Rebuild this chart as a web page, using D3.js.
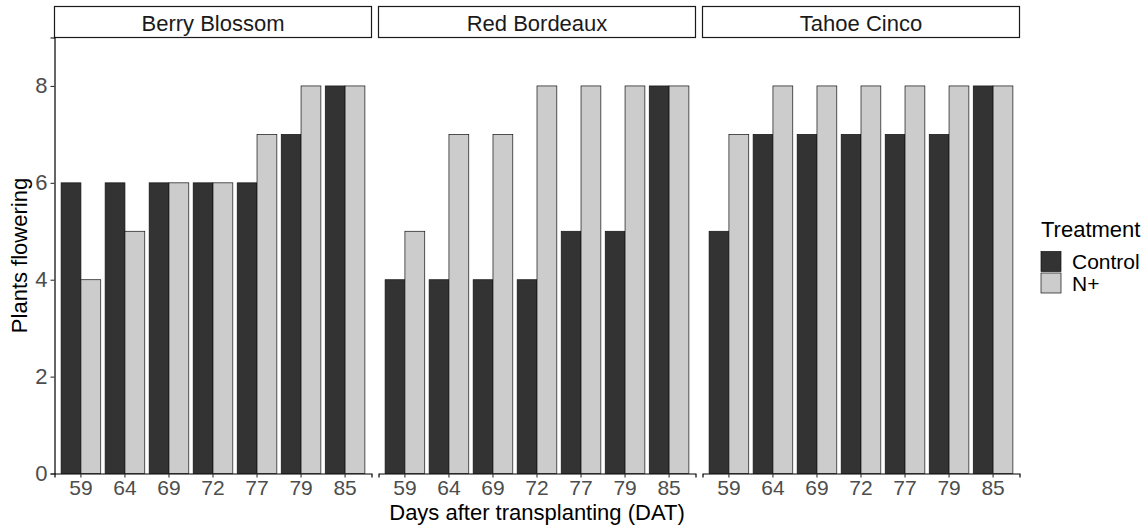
<!DOCTYPE html>
<html>
<head>
<meta charset="utf-8">
<script src="https://cdn.jsdelivr.net/npm/d3@7"></script>
<style>
  body { margin: 0; background: #fff; }
  text { font-family: "Liberation Sans", Arial, sans-serif; }
</style>
</head>
<body>
<div id="chart"></div>
<script>
// data
const varieties = ["Berry Blossom", "Red Bordeaux", "Tahoe Cinco"];
const days = ["59", "64", "69", "72", "77", "79", "85"];
const treatments = ["Control", "N+"];
const berryControl = [6, 6, 6, 6, 6, 7, 8];
const berryN = [4, 5, 6, 6, 7, 8, 8];
const redControl = [4, 4, 4, 4, 5, 5, 8];
const redN = [5, 7, 7, 8, 8, 8, 8];
const tahoeControl = [5, 7, 7, 7, 7, 7, 8];
const tahoeN = [7, 8, 8, 8, 8, 8, 8];
const yTicks = [0, 2, 4, 6, 8];

const fills = {"Control": "#333333", "N+": "#cccccc"};

const width = 1146, height = 527;
const plotTop = 37.5, plotBottom = 473.5;
const stripTop = 6.5;
const fontSize = "22px";
const tickFont = "21px";

const series = {
  "Berry Blossom": [berryControl, berryN],
  "Red Bordeaux": [redControl, redN],
  "Tahoe Cinco": [tahoeControl, tahoeN]
};

let rows = [];
varieties.forEach(v => {
  days.forEach((d, i) => {
    treatments.forEach((t, j) => {
      rows.push({variety: v, day: d, treatment: t, value: series[v][j][i]});
    });
  });
});

const svg = d3.select("#chart").append("svg")
  .attr("width", width)
  .attr("height", height);

const facet = d3.scaleBand()
  .domain(varieties)
  .range([54.5, 1019.5])
  .paddingInner(7 / 324)
  .paddingOuter(0);

const x = d3.scaleBand()
  .domain(days)
  .range([0, facet.bandwidth()])
  .paddingInner(0.1)
  .paddingOuter(0.15);

const xSub = d3.scaleBand()
  .domain(treatments)
  .range([0, x.bandwidth()]);

const y = d3.scaleLinear()
  .domain([0, 9])
  .range([plotBottom, plotTop]);

varieties.forEach((v, k) => {
  const g = svg.append("g")
    .attr("transform", `translate(${facet(v)}, 0)`);

  // strip
  g.append("rect")
    .attr("x", 0)
    .attr("y", stripTop)
    .attr("width", facet.bandwidth())
    .attr("height", plotTop - stripTop)
    .attr("fill", "#fff")
    .attr("stroke", "#1a1a1a")
    .attr("stroke-width", 1.2);
  g.append("text")
    .attr("x", facet.bandwidth() / 2)
    .attr("y", 30.5)
    .attr("text-anchor", "middle")
    .attr("font-size", fontSize)
    .attr("fill", "#1a1a1a")
    .text(v);

  // bars
  g.append("g")
    .selectAll("rect")
    .data(rows.filter(r => r.variety === v))
    .join("rect")
      .attr("x", d => x(d.day) + xSub(d.treatment))
      .attr("y", d => y(d.value))
      .attr("width", xSub.bandwidth())
      .attr("height", d => y(0) - y(d.value))
      .attr("fill", d => fills[d.treatment])
      .attr("stroke", "#111")
      .attr("stroke-width", 0.7);

  // x axis
  const xa = g.append("g")
    .attr("transform", `translate(0, ${plotBottom})`)
    .call(d3.axisBottom(x).tickSizeOuter(0).tickSize(4).tickPadding(3));
  xa.select(".domain").attr("stroke", "#000").attr("stroke-width", 1.2);
  xa.selectAll(".tick line").attr("stroke", "#333").attr("stroke-width", 1.1);
  xa.selectAll("text")
    .attr("font-size", tickFont)
    .attr("fill", "#4d4d4d")
    .attr("font-family", "Liberation Sans, Arial, sans-serif");

  if (k === 0) {
    const ya = g.append("g")
      .call(d3.axisLeft(y).tickValues(yTicks).tickSizeOuter(0).tickSize(4).tickPadding(3));
    ya.select(".domain").attr("stroke", "#000").attr("stroke-width", 1.2);
    ya.selectAll(".tick line").attr("stroke", "#333").attr("stroke-width", 1.1);
    ya.selectAll("text")
      .attr("font-size", fontSize)
      .attr("fill", "#4d4d4d")
      .attr("font-family", "Liberation Sans, Arial, sans-serif");
  }
});

// axis titles
svg.append("text")
  .attr("x", 537)
  .attr("y", 519.5)
  .attr("text-anchor", "middle")
  .attr("font-size", fontSize)
  .text("Days after transplanting (DAT)");

svg.append("text")
  .attr("transform", `translate(27, ${(plotTop + plotBottom) / 2}) rotate(-90)`)
  .attr("text-anchor", "middle")
  .attr("font-size", fontSize)
  .text("Plants flowering");

// legend
const legend = svg.append("g").attr("transform", "translate(1041, 0)");
legend.append("text")
  .attr("x", 0)
  .attr("y", 236.5)
  .attr("font-size", fontSize)
  .text("Treatment");

const keys = legend.selectAll("g.key")
  .data(treatments)
  .join("g")
    .attr("class", "key")
    .attr("transform", (d, i) => `translate(0, ${251.5 + i * 21.5})`);
keys.append("rect")
  .attr("width", 20)
  .attr("height", 20)
  .attr("fill", d => fills[d])
  .attr("stroke", "#111")
  .attr("stroke-width", 0.7);
keys.append("text")
  .attr("x", 31)
  .attr("y", 17.5)
  .attr("font-size", "21px")
  .text(d => d);
</script>
</body>
</html>
